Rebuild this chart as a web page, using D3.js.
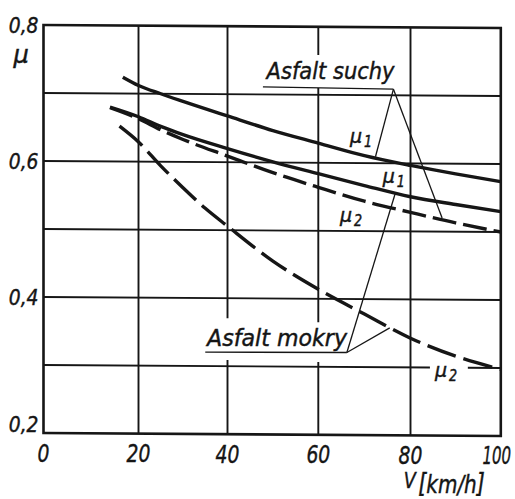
<!DOCTYPE html>
<html>
<head>
<meta charset="utf-8">
<script src="https://cdn.jsdelivr.net/npm/d3@7"></script>
<style>
  html, body { margin: 0; padding: 0; background: #fff; }
  svg { display: block; }
  text { font-family: "DejaVu Sans", "Liberation Sans", sans-serif; font-style: italic; fill: #151515; stroke: #151515; stroke-width: 0.45px; }
</style>
</head>
<body>
<svg id="chart" width="515" height="499"></svg>
<script>
// Friction coefficient μ against speed V on dry and wet asphalt
const xTicks = [0, 20, 40, 60, 80, 100];
const xTickLabels = ["0", "20", "40", "60", "80", "100"];
const yTicks = [0.2, 0.4, 0.6, 0.8];
const yTickLabels = ["0,2", "0,4", "0,6", "0,8"];
const yGrid = [0.3, 0.4, 0.5, 0.6, 0.7];

// [V km/h, μ]
const suchyMu1 = [[16.7,0.724],[20,0.712],[25,0.700],[30,0.689],[40,0.668],[50,0.647],[60,0.629],[70,0.611],[80,0.597],[90,0.585],[100,0.574]];
const suchyMu2 = [[14,0.679],[20,0.663],[25,0.647],[30,0.633],[40,0.609],[50,0.585],[60,0.564],[70,0.544],[80,0.528],[90,0.513],[100,0.500]];
const mokryMu1 = [[14,0.680],[20,0.666],[25,0.652],[30,0.640],[40,0.620],[50,0.601],[60,0.584],[70,0.567],[80,0.551],[90,0.540],[100,0.530]];
const mokryMu2 = [[16,0.652],[20,0.629],[25,0.594],[30,0.562],[35,0.532],[40,0.506],[50,0.455],[60,0.414],[70,0.378],[80,0.343],[90,0.317],[100,0.298]];

const svg = d3.select("#chart");
const ink = "#161616";

// hand-drawn grid: column widths are not perfectly even
const x = d3.scaleLinear().domain(xTicks).range([43.5, 138.5, 227.5, 318.3, 410.5, 500.8]);
const y = d3.scaleLinear().domain([0.2, 0.8]).range([433, 25]);

// the drawing leans slightly: horizontals drop ~3px across the frame
const k = 3 / 457;
const px = v => x(v);
const py = (v, m) => y(m) + (x(v) - x(0)) * k;

const g = svg.append("g")
  .attr("transform", `translate(0,${-x(0) * k}) skewY(${Math.atan(k) * 180 / Math.PI})`);

// gridline gaps left open around the annotations
const vGaps = { 40: [[0.309, 0.3705]], 60: [[0.307, 0.3655], [0.71, 0.7585]] };
const hGaps = { 0.3: [[84.3, 92.7]] };

function segments(lo, hi, gaps) {
  const out = [];
  let a = lo;
  (gaps || []).slice().sort((p, q) => p[0] - q[0]).forEach(([g0, g1]) => {
    out.push([a, g0]);
    a = g1;
  });
  out.push([a, hi]);
  return out;
}

const grid = g.append("g").attr("stroke", ink).attr("stroke-width", 1.9).attr("fill", "none");
xTicks.slice(1, -1).forEach(v => {
  segments(0.2, 0.8, vGaps[v]).forEach(([m0, m1]) => {
    grid.append("line").attr("x1", x(v)).attr("x2", x(v)).attr("y1", y(m0)).attr("y2", y(m1));
  });
});
yGrid.forEach(m => {
  segments(0, 100, hGaps[m]).forEach(([v0, v1]) => {
    grid.append("line").attr("x1", x(v0)).attr("x2", x(v1)).attr("y1", y(m)).attr("y2", y(m));
  });
});

// frame
g.append("rect")
  .attr("x", x(0)).attr("y", y(0.8))
  .attr("width", x(100) - x(0)).attr("height", y(0.2) - y(0.8))
  .attr("fill", "none").attr("stroke", ink).attr("stroke-width", 2.6);

// curves
const line = d3.line().x(d => x(d[0])).y(d => y(d[1])).curve(d3.curveMonotoneX);
const curves = [
  { data: suchyMu1, dash: null },
  { data: mokryMu1, dash: null },
  { data: suchyMu2, dash: "24,7" },
  { data: mokryMu2, dash: "30,8" }
];
curves.forEach(c => {
  g.append("path")
    .attr("d", line(c.data))
    .attr("fill", "none")
    .attr("stroke", ink)
    .attr("stroke-width", 3.4)
    .attr("stroke-dasharray", c.dash);
});

// leader lines from the surface labels to their curves
const leaders = [
  [[47.8, 0.711], [76.3, 0.709]],
  [[76.3, 0.709], [72.4, 0.6095]],
  [[76.3, 0.709], [87.0, 0.520]],
  [[35.0, 0.3205], [66.2, 0.3213]],
  [[66.2, 0.3213], [76.7, 0.556]],
  [[66.2, 0.3213], [75.5, 0.358]]
];
const lead = d3.line().x(d => x(d[0])).y(d => y(d[1]));
leaders.forEach(l => {
  g.append("path").attr("d", lead(l)).attr("fill", "none")
    .attr("stroke", ink).attr("stroke-width", 1.3);
});

// text helper: anchor point, size, horizontal squeeze
function label(t, tx, ty, size, opts = {}) {
  const el = svg.append("text")
    .attr("transform", `translate(${tx},${ty}) scale(${opts.sx || 1},1)`)
    .attr("font-size", size)
    .attr("text-anchor", opts.anchor || "start")
    .text(t);
  if (opts.len) el.attr("textLength", opts.len).attr("lengthAdjust", "spacingAndGlyphs");
  return el;
}

// y tick labels
yTicks.forEach((m, i) => {
  const base = m === 0.2 ? y(m) - 1 : y(m) + 8;
  label(yTickLabels[i], x(0) - 5, base, 22, { anchor: "end", sx: 0.85 });
});
// x tick labels (the three-digit one is set tighter so it stays inside the sheet)
xTicks.forEach((v, i) => {
  const wide = xTickLabels[i].length > 2;
  label(xTickLabels[i], x(v) - (wide ? 4 : 0), py(v, 0.2) + 28.5 - (wide ? 1 : 0), 25,
    { anchor: "middle", sx: wide ? 0.6 : 0.75 });
});

// axis titles
label("μ", x(0) - 30, y(0.8) + 38, 24);

const bx = x(100), by = py(100, 0.2);
const unit = svg.append("text")
  .attr("transform", `translate(${bx - 97},${by + 52}) scale(0.8,1)`);
unit.append("tspan").attr("font-size", 22).text("V");
unit.append("tspan").attr("font-size", 26).attr("dx", 3).attr("dy", 3.5).text("[");
unit.append("tspan").attr("font-size", 25).attr("dy", 1.5).text("km/h");
unit.append("tspan").attr("font-size", 26).attr("dy", -1.5).text("]");

// surface labels
label("Asfalt suchy", px(48.6), py(48.6, 0.7227), 23, { len: 128 });
label("Asfalt mokry", px(35.4), py(35.4, 0.3295), 23, { len: 140 });

// curve symbols μ with index
const symbols = [
  { V: 66.9, m: 0.629, sub: "1" },
  { V: 74.0, m: 0.571, sub: "1" },
  { V: 64.7, m: 0.5133, sub: "2" },
  { V: 85.4, m: 0.286, sub: "2" }
];
symbols.forEach(s => {
  const sx0 = px(s.V), sy0 = py(s.V, s.m);
  label("μ", sx0, sy0, 19);
  label(s.sub, sx0 + 14, sy0 + 4, 15, { sx: 0.85 });
});
</script>
</body>
</html>
